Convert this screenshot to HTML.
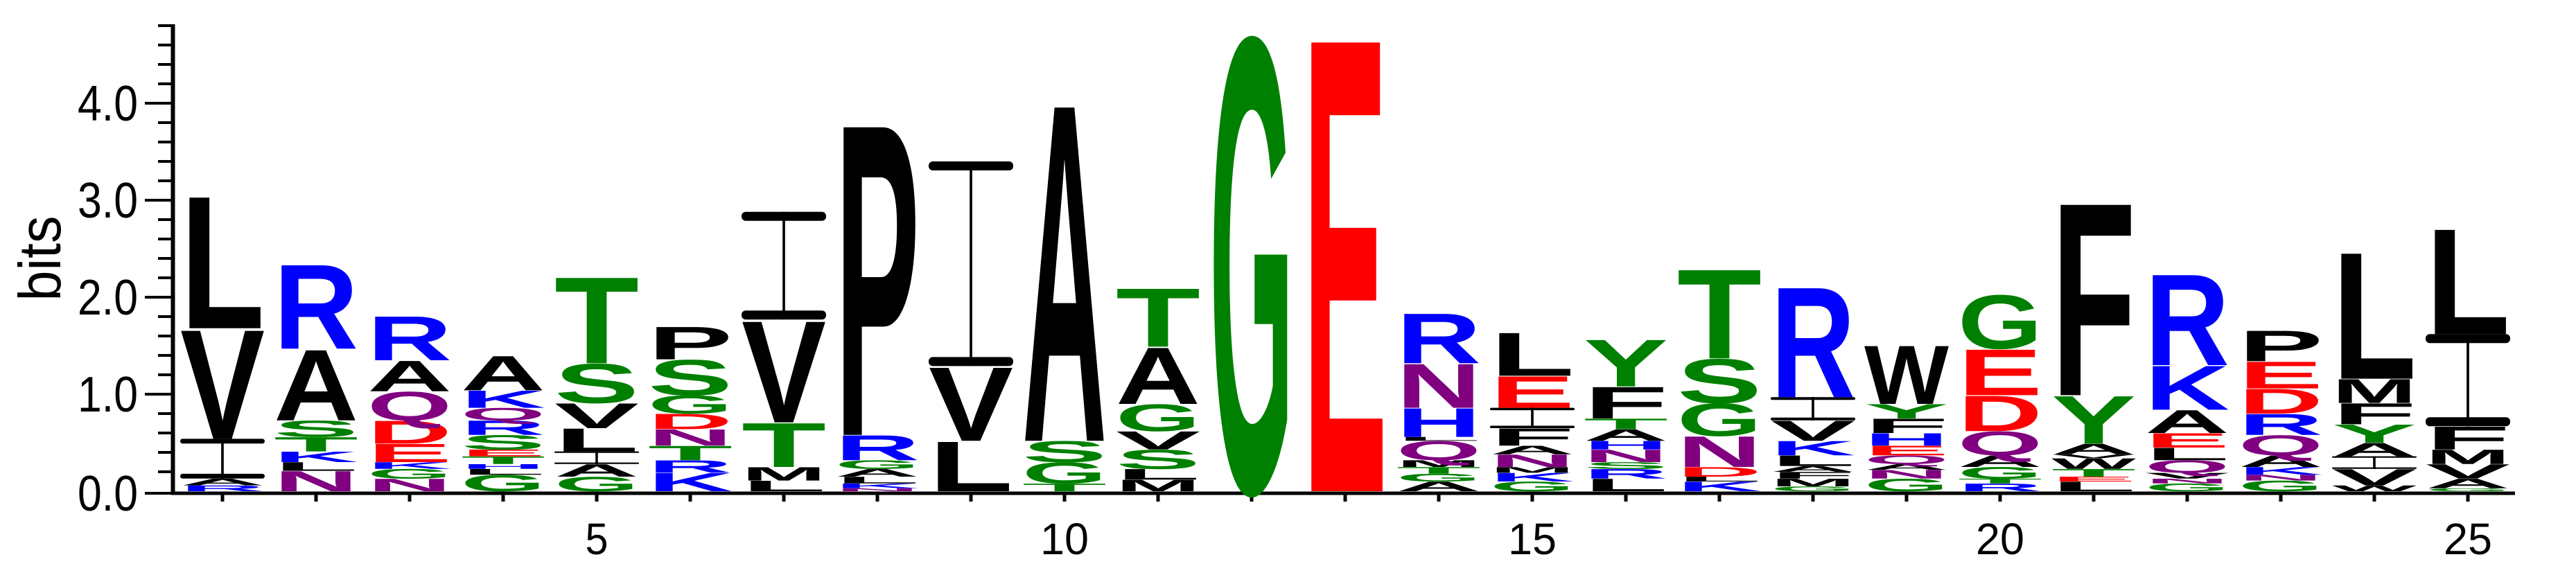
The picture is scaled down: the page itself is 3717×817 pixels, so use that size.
<!DOCTYPE html>
<html><head><meta charset="utf-8"><style>
html,body{margin:0;padding:0;background:#fff;width:3717px;height:817px;overflow:hidden;}
svg{display:block;}
</style></head><body>
<svg id="chart" xmlns="http://www.w3.org/2000/svg" width="3717" height="817" viewBox="0 0 3717 817" overflow="hidden">
<g id="axes"></g>
<g id="logo"></g>
<text transform="translate(87,373) rotate(-90)" text-anchor="middle" font-family="Liberation Sans, sans-serif" font-size="85" textLength="123" lengthAdjust="spacingAndGlyphs">bits</text>
</svg>
<script>
// Data: each position is a stack (bottom -> top) of [letter, bits]
const positions = [1,2,3,4,5,6,7,8,9,10,11,12,13,14,15,16,17,18,19,20,21,22,23,24,25];
const stacks = [
 [["R",.06],["A",.07],["I",.41],["V",1.14],["L",1.38]],
 [["N",.21],["L",.09],["K",.11],["T",.15],["S",.17],["A",.74],["R",.88]],
 [["N",.13],["G",.1],["K",.07],["E",.19],["D",.24],["Q",.3],["A",.32],["R",.46]],
 [["G",.17],["L",.06],["H",.05],["T",.08],["E",.07],["S",.15],["R",.15],["Q",.13],["K",.18],["A",.36]],
 [["G",.15],["A",.13],["I",.13],["L",.24],["V",.26],["S",.41],["T",.9]],
 [["K",.19],["R",.13],["T",.15],["N",.17],["D",.16],["G",.19],["S",.37],["P",.34]],
 [["L",.11],["M",.14],["T",.46],["V",1.06],["I",1.11]],
 [["N",.03],["K",.05],["L",.07],["A",.08],["G",.09],["R",.26],["P",3.25]],
 [["L",.52],["V",.77],["I",2.11]],
 [["T",.08],["G",.22],["S",.22],["A",3.52]],
 [["M",.12],["L",.11],["S",.2],["V",.19],["G",.28],["A",.59],["T",.61]],
 [["G",4.74]],
 [["E",4.74]],
 [["A",.1],["G",.08],["T",.07],["M",.07],["Q",.2],["L",.04],["H",.3],["N",.46],["R",.52]],
 [["G",.1],["K",.09],["M",.06],["N",.13],["A",.09],["F",.18],["I",.21],["E",.33],["L",.45]],
 [["L",.13],["R",.1],["S",.07],["N",.13],["H",.09],["A",.12],["T",.11],["F",.33],["Y",.49]],
 [["K",.1],["L",.05],["D",.1],["N",.32],["G",.34],["S",.46],["T",.93]],
 [["G",.05],["M",.08],["F",.07],["A",.06],["L",.11],["K",.15],["V",.21],["I",.24],["R",1.15]],
 [["G",.13],["N",.09],["A",.06],["Q",.09],["E",.1],["H",.13],["F",.15],["Y",.15],["W",.61]],
 [["R",.08],["T",.05],["G",.12],["A",.12],["Q",.25],["D",.37],["E",.48],["G",.56]],
 [["L",.1],["E",.05],["T",.08],["W",.11],["V",.04],["A",.11],["Y",.5],["F",2.01]],
 [["G",.08],["N",.05],["V",.06],["Q",.13],["L",.13],["E",.15],["A",.24],["K",.46],["R",.95]],
 [["G",.11],["N",.06],["K",.08],["A",.12],["Q",.21],["R",.22],["D",.26],["E",.28],["P",.32]],
 [["W",.06],["V",.17],["I",.13],["A",.14],["Y",.19],["F",.22],["M",.25],["L",1.32]],
 [["G",.03],["A",.1],["V",.15],["M",.15],["F",.24],["I",.95],["L",1.1]]
];
const yTicks = [0,1,2,3,4];
const yTickLabels = ["0.0","1.0","2.0","3.0","4.0"];
const xTickLabels = [5,10,15,20,25];

const NS="http://www.w3.org/2000/svg";
const y0=709, pxPerBit=140, x1=321, step=135, colW=122;
const yScale=b=>y0-b*pxPerBit;
const xScale=p=>x1+(p-1)*step;
const colors={G:"#008000",S:"#008000",T:"#008000",Y:"#008000",C:"#008000",N:"#800080",Q:"#800080",K:"#0000ff",R:"#0000ff",H:"#0000ff",D:"#ff0000",E:"#ff0000"};
function mk(tag,attrs,parent){const e=document.createElementNS(NS,tag);for(const k in attrs)e.setAttribute(k,attrs[k]);parent.appendChild(e);return e;}

const axes=document.getElementById('axes');
const axisY=712;
let ya=mk('line',{x1:249.5,y1:yScale(4.8)-2,x2:249.5,y2:axisY+2,stroke:'#000','stroke-width':6},axes);


for(let i=0;i<=24;i++){
  const b=i*0.2, major=(i%5===0);
  const yy = i===0?axisY:yScale(b);
  const t=mk('line',{x1:major?209:228,y1:yy,x2:250,y2:yy,stroke:'#000','stroke-width':4},axes);
  
  
}
yTicks.forEach((v,i)=>{
  const t=mk('text',{x:199,y:(i===0?axisY:yScale(v))+25,'text-anchor':'end','font-family':'Liberation Sans, sans-serif','font-size':72,textLength:87,lengthAdjust:'spacingAndGlyphs'},axes);
  t.textContent=yTickLabels[i];
  
  
});
let xa=mk('line',{x1:247,y1:axisY,x2:3629,y2:axisY,stroke:'#000','stroke-width':5},axes);


positions.forEach(p=>{
  const t=mk('line',{x1:xScale(p),y1:axisY,x2:xScale(p),y2:724,stroke:'#000','stroke-width':5},axes);
  
  
});
xTickLabels.forEach(p=>{
  const s=String(p);
  const t=mk('text',{x:xScale(p),y:800,'text-anchor':'middle','font-family':'Liberation Sans, sans-serif','font-size':64,textLength:s.length>1?70:33,lengthAdjust:'spacingAndGlyphs'},axes);
  t.textContent=s;
  
  
});
const logo=document.getElementById('logo');
stacks.forEach((stack,i)=>{
  const cx=xScale(positions[i]);
  const g=mk('g',{},logo);
  
  
  let acc=0;
  stack.forEach(([ch,h])=>{
    const bot=yScale(acc), hp=h*pxPerBit;
    acc+=h;
    const col=colors[ch]||'#000';
    if(ch==='I'){
      const bh=Math.max(1,Math.min(13,hp*0.12));
      const sw=Math.max(3,Math.min(12,colW*0.09));
      const t=mk('text',{x:0,y:0,'text-anchor':'middle','font-family':'Liberation Sans, sans-serif','font-size':100,fill:col,textLength:sw,lengthAdjust:'spacingAndGlyphs',transform:`translate(${cx},${bot}) scale(1,${hp/68.8})`},g);
      t.textContent='I';
      
      
      const r1=mk('rect',{x:cx-colW/2,y:bot-hp,width:colW,height:bh,rx:Math.min(bh/2,6),fill:col},g);
      
      
      const r2=mk('rect',{x:cx-colW/2,y:bot-bh,width:colW,height:bh,rx:Math.min(bh/2,6),fill:col},g);
      
      
      return;
    }
    const t=mk('text',{x:0,y:0,'text-anchor':'middle','font-family':'Liberation Sans, sans-serif','font-weight':'bold','font-size':100,fill:col,textLength:colW,lengthAdjust:'spacingAndGlyphs',transform:`translate(${cx},${bot}) scale(1,${hp/70.5})`},g);
    t.textContent=ch;
    
    
  });
});
</script>
</body></html>
